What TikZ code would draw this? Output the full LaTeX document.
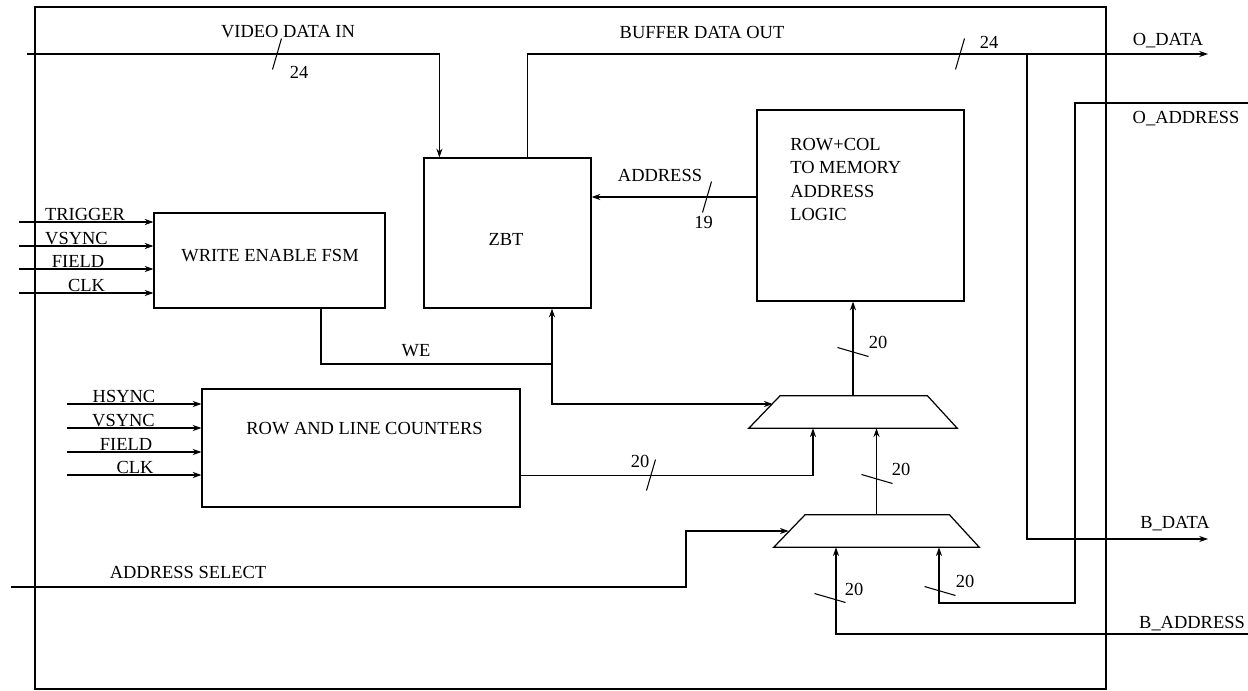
\documentclass[tikz,border=0pt]{standalone}
\usepackage{fontspec}
\setmainfont{Liberation Serif}
\usetikzlibrary{arrows.meta, calc}
\newcommand\sigfont{\fontsize{10.5}{13.3}\selectfont}
\tikzset{
  blk/.style={
    rectangle, draw=black, line width=0.7pt, inner sep=0pt
  },
  mux/.style={
    rectangle, inner sep=0pt, minimum height=0.64cm
  },
  sig/.style={
    -{Stealth[length=5pt,width=3.5pt]}, line width=0.6pt
  },
  wire/.style={line width=0.6pt},
  lbl/.style={inner sep=0pt, font=\sigfont},
  bus slash/.pic={\draw[wire] (-4.5,15.5) -- (4.5,-15.5);},
  bus tick/.pic={\draw[wire] (-15.5,-4.5) -- (15.5,4.5);}
}

\begin{document}
\begin{tikzpicture}[x=0.02cm, y=-0.02cm]
  \useasboundingbox (0,0) rectangle (1248,690);
  \draw[line width=0.7pt] (35,7) rectangle (1106,689);

  % blocks
  \node[blk, minimum width=4.62cm, minimum height=1.9cm] (fsm) at (269.5,260.5) {};
  \node[blk, minimum width=3.34cm, minimum height=3cm] (zbt) at (507.5,233) {};
  \node[blk, minimum width=4.14cm, minimum height=3.82cm] (rowcol) at (860.5,205.5) {};
  \node[blk, minimum width=6.36cm, minimum height=2.36cm] (cnt) at (361,448) {};
  \node[mux, minimum width=4.16cm] (mux1) at (853,412) {};
  \node[mux, minimum width=4.1cm] (mux2) at (876.5,531) {};
  \foreach \m in {mux1, mux2}
    \draw[line width=0.7pt] (\m.south west) -- ([xshift=0.63cm]\m.north west)
      -- ([xshift=-0.6cm]\m.north east) -- (\m.south east) -- cycle;

  \node[lbl] (fsmtxt) at (270,255.5) {WRITE ENABLE FSM};
  \node[lbl] (zbttxt) at (506,239) {ZBT};
  \node[lbl, align=left, anchor=north west] (rowcoltxt) at (790,138) {ROW+COL\\TO MEMORY\\ADDRESS\\LOGIC};
  \node[lbl] (cnttxt) at (364.5,429) {ROW AND LINE COUNTERS};

  % inputs
  \foreach \y/\t/\lx [count=\i] in {222/TRIGGER/85, 246/VSYNC/76.5, 269/FIELD/78, 293/CLK/86.5} {
    \coordinate (fin\i) at (19,\y);
    \draw[sig] (fin\i) -- (fin\i -| fsm.west);
    \node[lbl, anchor=base] (fl\i) at (\lx,\y-2) {\t};
  }
  \foreach \y/\t/\lx [count=\i] in {404/HSYNC/124, 428/VSYNC/123.5, 452/FIELD/126, 475/CLK/135} {
    \coordinate (cin\i) at (67,\y);
    \draw[sig] (cin\i) -- (cin\i -| cnt.west);
    \node[lbl, anchor=base] (cl\i) at (\lx,\y-2) {\t};
  }

  % video in / buffer out
  \coordinate (vdi) at (27,54);
  \draw[sig] (vdi) -| ([xshift=0.32cm]zbt.north west);
  \pic at (277,54) {bus slash};
  \node[lbl] (lvdi) at (288,32) {VIDEO DATA IN};
  \node[lbl] (nvdi) at (299,72) {24};

  \coordinate (odata) at (1208,54);
  \coordinate (split) at (1027,54);
  \coordinate (bdata) at (1208,539);
  \draw[sig] ([xshift=2.08cm]zbt.north west) |- (odata);
  \draw[sig] (split) |- (bdata);
  \pic at (960,54) {bus slash};
  \node[lbl] (lbdo) at (702,32) {BUFFER DATA OUT};
  \node[lbl] (nbdo) at (989,42) {24};
  \node[lbl] (lodata) at (1168,41) {O\_DATA};
  \node[lbl] (lbdata) at (1175,524) {B\_DATA};

  % address
  \coordinate (addr) at ($(rowcol.west)+(0,-8.5)$);
  \draw[sig] (addr) -- (addr -| zbt.east);
  \pic at (707,197) {bus slash};
  \node[lbl] (laddr) at (660,175) {ADDRESS};
  \node[lbl] (naddr) at (703.5,222) {19};

  % write enable
  \coordinate (wej) at (552,364);
  \draw[wire] ([xshift=1.03cm]fsm.south) |- (wej);
  \draw[sig] (wej) -- (wej |- zbt.south);
  \draw[sig] (wej) |- ($(mux1.west)+(24,-8)$);
  \node[lbl] (lwe) at (416,350.5) {WE};

  % counters to muxes
  \coordinate (cntout) at ($(cnt.south east)+(0,-32)$);
  \draw[sig] (cntout) -| ([xshift=-0.8cm]mux1.south);
  \pic at (651,475) {bus slash};
  \node[lbl] (ncnt) at (640,461) {20};

  \draw[sig] (mux2.north) -- (mux2.north |- mux1.south);
  \pic at (877,479) {bus tick};
  \node[lbl] (nmux2) at (901,469) {20};
  \draw[sig] (mux1.north) -- (mux1.north |- rowcol.south);
  \pic at (853,352) {bus tick};
  \node[lbl] (nmux1) at (878,342) {20};

  % address select and external addresses
  \coordinate (asel) at (11,587);
  \draw[sig] (asel) -- ++(675,0) |- ($(mux2.west)+(15,0)$);
  \node[lbl] (lasel) at (188,572) {ADDRESS SELECT};

  \coordinate (baddr) at (1248,634);
  \draw[sig] (baddr) -| ([xshift=-0.81cm]mux2.south);
  \pic at (830,598) {bus tick};
  \node[lbl] (nbaddr) at (854,589) {20};
  \node[lbl] (lbaddr) at (1192,624) {B\_ADDRESS};

  \coordinate (oaddr) at (1248,103);
  \draw[sig] (oaddr) -- ++(-173,0) -- ++(0,500) -| ([xshift=1.25cm]mux2.south);
  \pic at (940,591) {bus tick};
  \node[lbl] (noaddr) at (965,581) {20};
  \node[lbl] (loaddr) at (1186,119) {O\_ADDRESS};
\end{tikzpicture}
\end{document}
